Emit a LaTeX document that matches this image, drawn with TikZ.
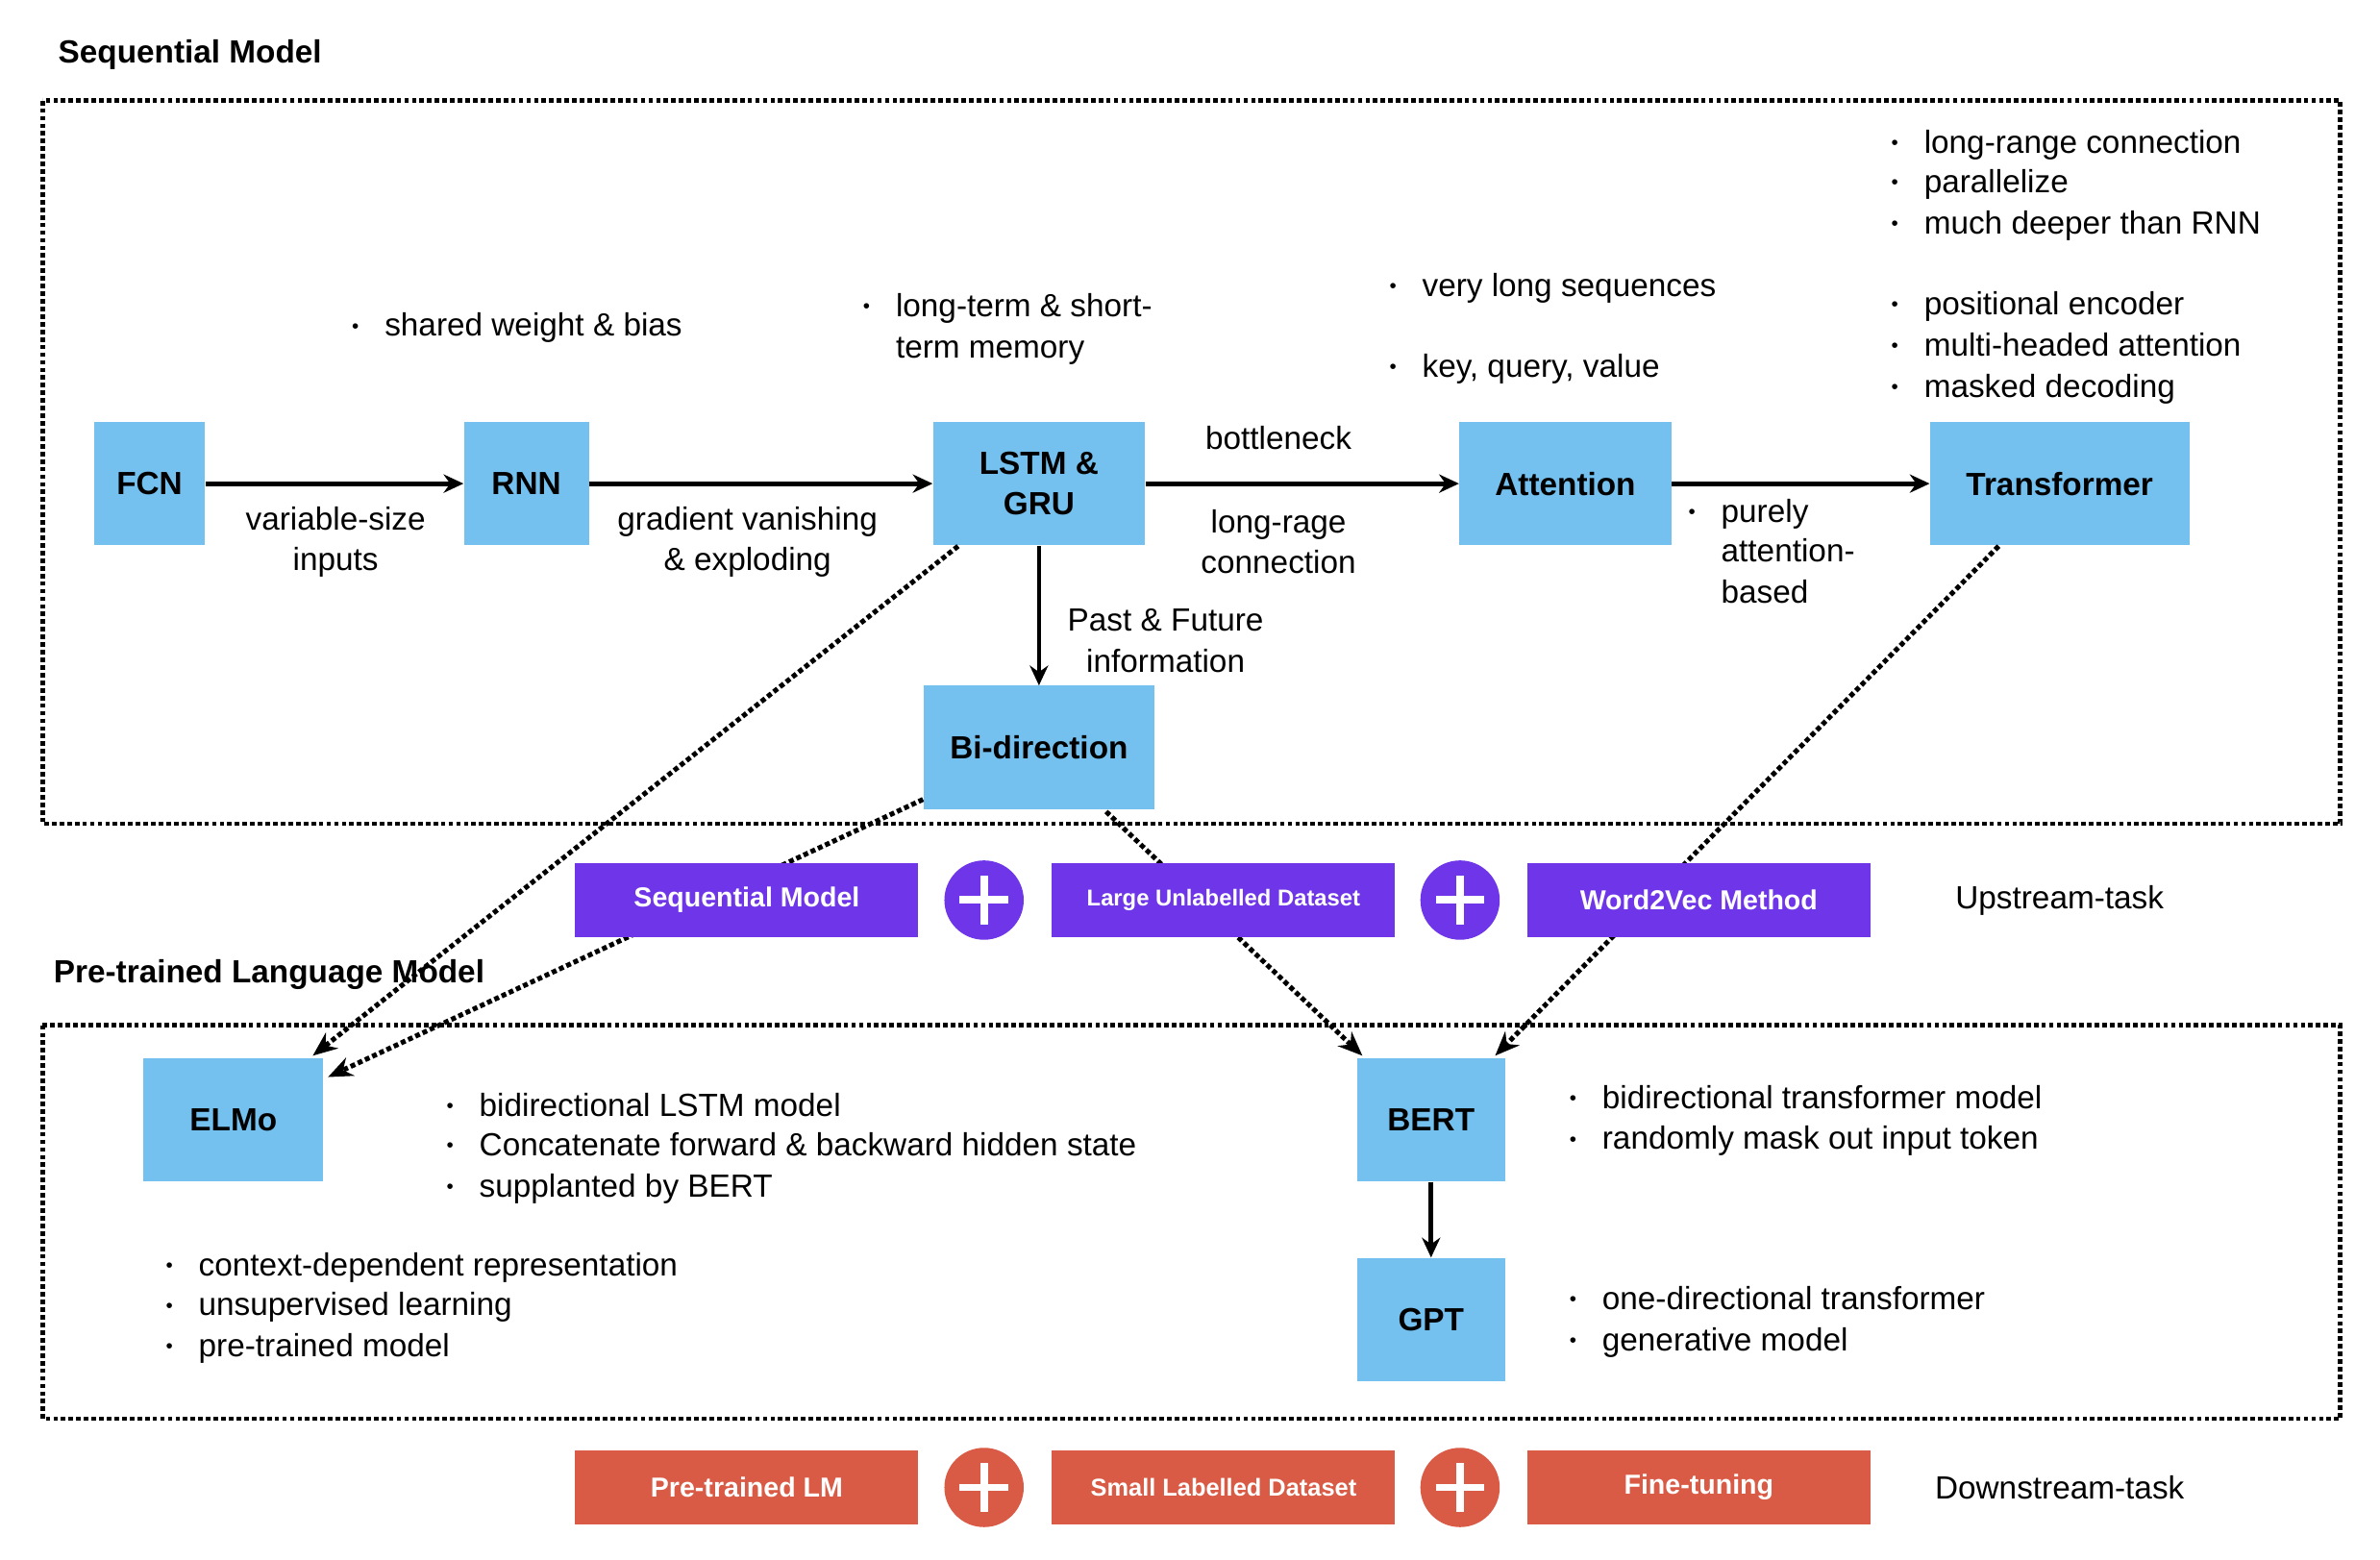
\documentclass[tikz,border=0pt]{standalone}
\usepackage{fontspec}
\setmainfont{Liberation Sans}
\usetikzlibrary{arrows.meta}
\definecolor{bl}{HTML}{74C0EE}
\definecolor{pu}{HTML}{6F35E8}
\definecolor{rd}{HTML}{D95B45}
\newcommand\bul[3]{\node[font=\fontsize{13}{15}\selectfont,inner sep=0] at (#1-19,#2) {\textbullet}; \node[tx,anchor=west] at (#1,#2) {#3};}
\begin{document}
\begin{tikzpicture}[x=1pt,y=-1pt,
  tx/.style={font=\fontsize{21}{26}\selectfont,inner sep=0,text height=15pt,text depth=4pt},
  ttl/.style={font=\bfseries\fontsize{21}{26}\selectfont,inner sep=0,anchor=west},
  lab/.style={font=\fontsize{21}{26.5}\selectfont,align=center,inner sep=0},
  box/.style={fill=bl,inner sep=0,font=\bfseries\fontsize{21}{26}\selectfont,align=center},
  pbox/.style={fill=pu,inner sep=0,minimum width=225pt,minimum height=49pt,text=white,font=\bfseries\fontsize{18}{22}\selectfont},
  rbox/.style={fill=rd,inner sep=0,minimum width=225pt,minimum height=49pt,text=white,font=\bfseries\fontsize{18}{22}\selectfont},
  plus/.style={circle,minimum size=52pt,inner sep=0,path picture={\draw[white,line width=5pt] ([xshift=-16pt]path picture bounding box.center)--([xshift=16pt]path picture bounding box.center) ([yshift=-16pt]path picture bounding box.center)--([yshift=16pt]path picture bounding box.center);}},
  arr/.style={line width=3pt,-{Stealth[length=13pt,width=12pt]}},
  dar/.style={line width=3.2pt,dotted,-{Stealth[length=16pt,width=13pt]}},
  frame/.style={line width=3pt,dotted}]
\useasboundingbox (0,0) rectangle (1560,1022);
\node[ttl] (t1) at (38,36) {Sequential Model};
\draw[frame] (28,66) rectangle (1534,540);
\node[ttl] (t2) at (35,639) {Pre-trained Language Model};
\draw[frame] (28,672) rectangle (1534,930);
% nodes
\node[box,minimum width=73pt,minimum height=81pt] (fcn) at (98,317) {FCN};
\node[box,minimum width=82pt,minimum height=81pt] (rnn) at (345,317) {RNN};
\node[box,minimum width=139pt,minimum height=81pt] (lstm) at (681,317) {LSTM \&\\GRU};
\node[box,minimum width=139pt,minimum height=81pt] (att) at (1026,317) {Attention};
\node[box,minimum width=170pt,minimum height=81pt] (tr) at (1350,317) {Transformer};
\node[box,minimum width=151pt,minimum height=81pt] (bi) at (681,490) {Bi-direction};
\node[box,minimum width=118pt,minimum height=81pt] (elmo) at (153,734) {ELMo};
\node[box,minimum width=97pt,minimum height=81pt] (bert) at (938,734) {BERT};
\node[box,minimum width=97pt,minimum height=81pt] (gpt) at (938,865) {GPT};
% dotted connectors
\coordinate (a1) at (628,358); \coordinate (a2) at (605,524);
\coordinate (a3) at (725,532); \coordinate (a4) at (1310,358);
\coordinate (e1) at (205,692); \coordinate (e2) at (215,706);
\coordinate (b1) at (893,692); \coordinate (b2) at (980,692);
\draw[dar] (a1) -- (e1);
\draw[dar] (a2) -- (e2);
\draw[dar] (a3) -- (b1);
\draw[dar] (a4) -- (b2);
% arrows
\draw[arr] (fcn) -- (rnn);
\draw[arr] (rnn) -- (lstm);
\draw[arr] (lstm) -- (att);
\draw[arr] (att) -- (tr);
\draw[arr] (lstm) -- (bi);
\draw[arr] (bert) -- (gpt);
% labels
\node[lab] (l1) at (220,355) {variable-size\\inputs};
\node[lab] (l2) at (490,355) {gradient vanishing\\\& exploding};
\node[lab] (l3) at (838,287) {bottleneck};
\node[lab] (l4) at (838,355) {long-rage\\connection};
\node[lab] (l5) at (764,420) {Past \& Future\\information};
\bul{252}{215}{shared weight \& bias}
\bul{587}{202}{long-term \& short-}
\node[tx,anchor=west] at (587,229) {term memory};
\bul{932}{189}{very long sequences}
\bul{932}{242}{key, query, value}
\bul{1128}{337}{purely}
\node[tx,anchor=west] at (1128,363) {attention-};
\node[tx,anchor=west] at (1128,390) {based};
\bul{1261}{95}{long-range connection}
\bul{1261}{121}{parallelize}
\bul{1261}{148}{much deeper than RNN}
\bul{1261}{201}{positional encoder}
\bul{1261}{228}{multi-headed attention}
\bul{1261}{255}{masked decoding}
\bul{314}{726}{bidirectional LSTM model}
\bul{314}{752}{Concatenate forward \& backward hidden state}
\bul{314}{779}{supplanted by BERT}
\bul{130}{831}{context-dependent representation}
\bul{130}{857}{unsupervised learning}
\bul{130}{884}{pre-trained model}
\bul{1050}{721}{bidirectional transformer model}
\bul{1050}{748}{randomly mask out input token}
\bul{1050}{853}{one-directional transformer}
\bul{1050}{880}{generative model}
% upstream
\node[pbox] (u1) at (489.5,590) {Sequential Model};
\node[plus,fill=pu] (up1) at (645,590) {};
\node[pbox,font=\bfseries\fontsize{15}{18}\selectfont] (u2) at (802,590) {Large Unlabelled Dataset};
\node[plus,fill=pu] (up2) at (957,590) {};
\node[pbox] (u3) at (1113.5,590) {Word2Vec Method};
\node[lab] (ut) at (1350,590) {Upstream-task};
% downstream
\node[rbox] (d1) at (489.5,975) {Pre-trained LM};
\node[plus,fill=rd] (dp1) at (645,975) {};
\node[rbox,font=\bfseries\fontsize{16}{19}\selectfont] (d2) at (802,975) {Small Labelled Dataset};
\node[plus,fill=rd] (dp2) at (957,975) {};
\node[rbox] (d3) at (1113.5,975) {Fine-tuning};
\node[lab] (dt) at (1350,975) {Downstream-task};
\end{tikzpicture}
\end{document}
